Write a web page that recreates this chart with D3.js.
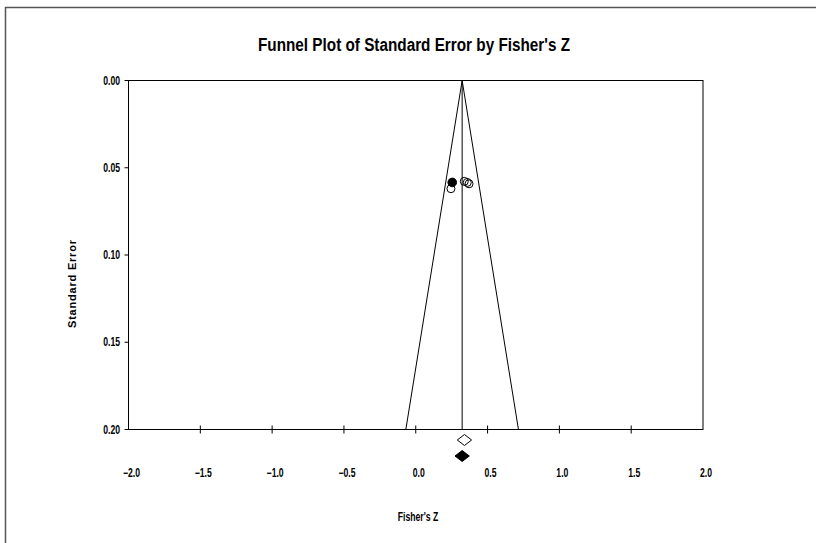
<!DOCTYPE html>
<html>
<head>
<meta charset="utf-8">
<script src="https://cdn.jsdelivr.net/npm/d3@7"></script>
<style>
  body { margin: 0; background: #fff; }
  text { fill: #000; }
  .narrow { font-family: "Liberation Sans", Arial, sans-serif; font-weight: bold; }
</style>
</head>
<body>
<div id="chart"></div>
<script>
// observed studies (open circles)
const obsZ = [0.245, 0.338, 0.359, 0.371];
const obsSE = [0.062, 0.0578, 0.0584, 0.0592];
// imputed study (filled circle)
const impZ = [0.254];
const impSE = [0.0584];
// summary diamonds: observed (open) and adjusted (filled)
const diamonds = [
  { est: 0.339, lo: 0.289, hi: 0.389, filled: false },
  { est: 0.323, lo: 0.273, hi: 0.373, filled: true }
];
const pooledZ = 0.323;
const xTicks = [-2.0, -1.5, -1.0, -0.5, 0.0, 0.5, 1.0, 1.5, 2.0];
const yTicks = [0.00, 0.05, 0.10, 0.15, 0.20];

const width = 816, height = 543;
const svg = d3.select("#chart").append("svg")
  .attr("width", width).attr("height", height);

// squeeze text horizontally to look like a narrow face
function narrow(sel, k) {
  sel.each(function () {
    const w = this.getComputedTextLength();
    d3.select(this).attr("textLength", w * k).attr("lengthAdjust", "spacingAndGlyphs");
  });
}

// outer frame (runs off the page at right and bottom)
svg.append("path")
  .attr("d", "M5.5,560 V7.5 H830")
  .attr("fill", "none").attr("stroke", "#555").attr("stroke-width", 1.5);

const x = d3.scaleLinear().domain([-2, 2]).range([128.5, 703]);
const y = d3.scaleLinear().domain([0, 0.2]).range([80.5, 429.5]);

// plot box
svg.append("rect")
  .attr("x", x(-2)).attr("y", y(0))
  .attr("width", x(2) - x(-2)).attr("height", y(0.2) - y(0))
  .attr("fill", "none").attr("stroke", "#000").attr("stroke-width", 1);

// title
svg.append("text").attr("class", "narrow")
  .attr("x", 414).attr("y", 51)
  .attr("text-anchor", "middle").attr("font-size", 18)
  .attr("textLength", 312).attr("lengthAdjust", "spacingAndGlyphs")
  .text("Funnel Plot of Standard Error by Fisher's Z");

// y axis ticks and labels
svg.selectAll("line.yt").data(yTicks).enter().append("line")
  .attr("x1", x(-2) - 4).attr("x2", x(-2))
  .attr("y1", d => y(d)).attr("y2", d => y(d))
  .attr("stroke", "#000");
svg.selectAll("text.yl").data(yTicks).enter().append("text")
  .attr("class", "narrow")
  .attr("x", 120).attr("y", d => y(d) + 4)
  .attr("text-anchor", "end").attr("font-size", 12)
  .text(d => d3.format(".2f")(d))
  .call(narrow, 0.72);

// x axis ticks and labels
svg.selectAll("line.xt").data(xTicks.slice(1, -1)).enter().append("line")
  .attr("x1", d => x(d)).attr("x2", d => x(d))
  .attr("y1", y(0.2) - 4).attr("y2", y(0.2) + 4)
  .attr("stroke", "#000");
svg.selectAll("text.xl").data(xTicks).enter().append("text")
  .attr("class", "narrow")
  .attr("x", d => x(d) + 3).attr("y", 477)
  .attr("text-anchor", "middle").attr("font-size", 12)
  .text(d => d3.format(".1f")(d))
  .call(narrow, 0.72);

// axis titles
svg.append("text").attr("class", "narrow")
  .attr("x", 418).attr("y", 521)
  .attr("text-anchor", "middle").attr("font-size", 12)
  .text("Fisher's Z")
  .call(narrow, 0.72);
svg.append("text")
  .attr("transform", "translate(76,284) rotate(-90)")
  .attr("text-anchor", "middle")
  .attr("font-family", "Liberation Sans, Arial, sans-serif")
  .attr("font-weight", "bold").attr("font-size", 11)
  .attr("textLength", 88).attr("lengthAdjust", "spacing")
  .text("Standard Error");

// funnel and pooled line
const seMax = 0.2;
svg.append("path")
  .attr("d", d3.line()([
    [x(pooledZ - 1.96 * seMax), y(seMax)],
    [x(pooledZ), y(0)],
    [x(pooledZ + 1.96 * seMax), y(seMax)]
  ]))
  .attr("fill", "none").attr("stroke", "#000").attr("stroke-width", 1);
svg.append("line")
  .attr("x1", x(pooledZ)).attr("x2", x(pooledZ))
  .attr("y1", y(0)).attr("y2", y(seMax))
  .attr("stroke", "#000").attr("stroke-width", 1);

// studies
svg.selectAll("circle.obs").data(obsZ).enter().append("circle")
  .attr("cx", d => x(d)).attr("cy", (d, i) => y(obsSE[i]))
  .attr("r", 4).attr("fill", "none").attr("stroke", "#000").attr("stroke-width", 1);
svg.selectAll("circle.imp").data(impZ).enter().append("circle")
  .attr("cx", d => x(d)).attr("cy", (d, i) => y(impSE[i]))
  .attr("r", 4.3).attr("fill", "#000").attr("stroke", "#000");

// summary diamonds below the axis
const dY = [440, 456];
svg.selectAll("path.dia").data(diamonds).enter().append("path")
  .attr("d", (d, i) => {
    const cy = dY[i];
    return `M${x(d.lo)},${cy} L${x(d.est)},${cy - 5.5} L${x(d.hi)},${cy} L${x(d.est)},${cy + 5.5} Z`;
  })
  .attr("fill", d => d.filled ? "#000" : "#fff")
  .attr("stroke", "#000").attr("stroke-width", 1);
</script>
</body>
</html>
